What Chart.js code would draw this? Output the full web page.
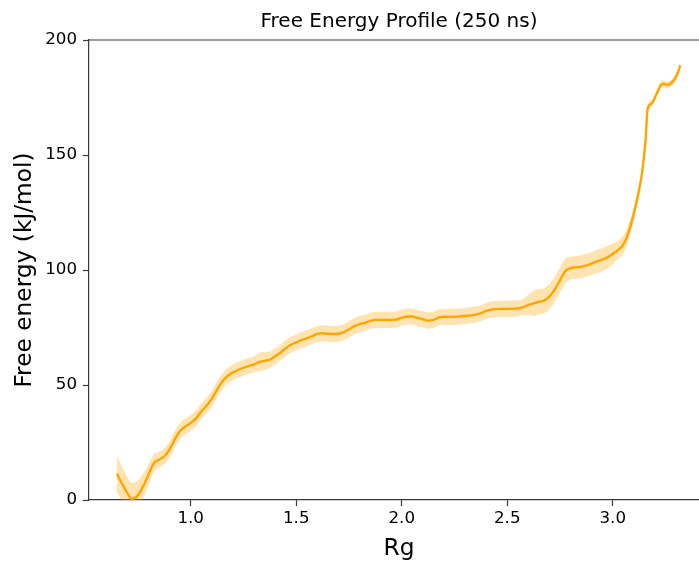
<!DOCTYPE html>
<html>
<head>
<meta charset="utf-8">
<script src="https://cdn.jsdelivr.net/npm/chart.js@4/dist/chart.umd.min.js"></script>
<style>
  html, body { margin: 0; padding: 0; background: #fff; overflow: hidden; width: 699px; height: 561px; }
  #wrap { width: 710px; height: 561px; }
</style>
</head>
<body>
<div id="wrap"><canvas id="c" width="710" height="561"></canvas></div>
<script>
const rg = [0.65, 0.675, 0.70, 0.72, 0.745, 0.775, 0.80, 0.825, 0.85, 0.875, 0.90, 0.925, 0.95, 0.975,
  1.0, 1.025, 1.05, 1.075, 1.10, 1.125, 1.15, 1.175, 1.20, 1.225, 1.25, 1.275, 1.30, 1.325, 1.35, 1.375,
  1.40, 1.425, 1.45, 1.475, 1.50, 1.525, 1.55, 1.575, 1.60, 1.625, 1.65, 1.675, 1.70, 1.725, 1.75, 1.775,
  1.80, 1.825, 1.85, 1.875, 1.90, 1.95, 1.975, 2.0, 2.025, 2.05, 2.075, 2.10, 2.125, 2.15, 2.175, 2.20,
  2.225, 2.25, 2.30, 2.35, 2.375, 2.40, 2.425, 2.45, 2.50, 2.55, 2.575, 2.60, 2.625, 2.65, 2.675, 2.70,
  2.725, 2.75, 2.775, 2.80, 2.85, 2.90, 2.925, 2.95, 2.975, 3.0, 3.025, 3.05, 3.075, 3.10, 3.125, 3.14,
  3.155, 3.165, 3.185, 3.21, 3.235, 3.26, 3.285, 3.305, 3.32];
const freeEnergy = [11.5, 7, 3, 0.5, 1.5, 6, 11, 16, 17.5, 19, 22, 26.5, 30, 32,
  33.5, 35.5, 38.5, 41, 44, 48, 51.5, 54, 55.5, 56.5, 57.5, 58.3, 59, 60, 60.5, 61,
  62.5, 64, 66, 67.5, 68.5, 69.5, 70.3, 71.2, 72.2, 72.5, 72.3, 72.2, 72.3, 73, 74.2, 75.5,
  76.5, 77, 77.8, 78.3, 78.3, 78.3, 78.5, 79.2, 79.8, 79.8, 79.2, 78.6, 78, 78.3, 79.3, 79.7,
  79.6, 79.7, 80, 80.6, 81.2, 82.2, 82.8, 83, 83.1, 83.3, 83.8, 84.8, 85.5, 86.2, 86.7, 88.5,
  91.5, 95.5, 99.5, 100.8, 101.4, 102.8, 103.7, 104.5, 105.5, 107, 108.7, 111, 116.5, 124.5, 135, 143,
  156, 170, 172.5, 177, 181, 180.5, 182, 185, 189];
const uncertainty = [8, 7.5, 7, 7, 6.5, 5.5, 4.5, 4, 3.5, 3.5, 3.5, 3.5, 3.5, 3.5,
  3.5, 3.5, 3.5, 3.5, 3.5, 3.5, 3.5, 3.5, 3.5, 3.5, 3.5, 3.5, 3.5, 4, 4, 3.5,
  3.5, 3.5, 3.5, 3.5, 3.5, 3.5, 3.5, 3.5, 3.5, 3.5, 3.5, 3.5, 3.5, 3.5, 3.5, 3.5,
  3.5, 3.5, 3.5, 3.5, 3.5, 3.5, 3.5, 3.5, 3.5, 3.5, 3.5, 3.5, 3.5, 3.5, 3.5, 3.5,
  3.5, 3.5, 3.5, 3.5, 3.5, 3.5, 3.5, 3.5, 3.5, 3.5, 3.5, 4.5, 5.5, 5.5, 5.5, 5.5,
  5.5, 5.5, 5.5, 5, 5, 5, 5, 5, 5, 4.5, 4, 4, 3.5, 3, 2.5, 2,
  1.5, 1.5, 1.5, 1.5, 1.5, 1.5, 1.5, 1.5, 1];
const xTicks = [1.0, 1.5, 2.0, 2.5, 3.0];
const yTicks = [0, 50, 100, 150, 200];

const toPts = arr => rg.map((x, i) => ({ x: x, y: arr[i] }));
const upper = freeEnergy.map((v, i) => v + uncertainty[i]);
const lower = freeEnergy.map((v, i) => v - uncertainty[i]);

const FONT = "'DejaVu Sans', sans-serif";
const SPINE = '#3a3a3a';

const topSpine = {
  id: 'topSpine',
  afterDraw(chart) {
    const { ctx, chartArea } = chart;
    ctx.save();
    ctx.strokeStyle = SPINE;
    ctx.lineWidth = 1.2;
    ctx.beginPath();
    ctx.moveTo(chartArea.left, chartArea.top);
    ctx.lineTo(chartArea.right + 2, chartArea.top);
    ctx.stroke();
    ctx.restore();
  }
};

new Chart(document.getElementById('c'), {
  type: 'line',
  data: {
    datasets: [
      { data: toPts(upper), borderWidth: 0, pointRadius: 0, backgroundColor: 'rgba(255,165,0,0.3)', fill: '+1', cubicInterpolationMode: 'monotone' },
      { data: toPts(lower), borderWidth: 0, pointRadius: 0, backgroundColor: 'rgba(255,165,0,0.3)', fill: false, cubicInterpolationMode: 'monotone' },
      { data: toPts(freeEnergy), borderColor: '#FFA500', borderWidth: 2.4, pointRadius: 0, fill: false, cubicInterpolationMode: 'monotone' }
    ]
  },
  options: {
    responsive: false,
    animation: false,
    devicePixelRatio: 1,
    layout: { padding: { left: 0, right: 1, top: 0, bottom: 0 } },
    plugins: {
      legend: { display: false },
      tooltip: { enabled: false },
      title: {
        display: true,
        fullSize: false,
        text: 'Free Energy Profile (250 ns)',
        color: '#000',
        font: { family: FONT, size: 20, weight: 'normal', lineHeight: 1.2 },
        padding: { top: 10, bottom: 6 }
      }
    },
    scales: {
      x: {
        type: 'linear',
        min: 0.518,
        max: 3.456,
        afterBuildTicks: s => { s.ticks = xTicks.map(v => ({ value: v })); },
        afterFit: s => { s.height = 61; },
        ticks: {
          color: '#000',
          font: { family: FONT, size: 16.7 },
          padding: 3,
          maxRotation: 0,
          callback: v => v.toFixed(1)
        },
        grid: { drawOnChartArea: false, drawTicks: true, tickLength: 6, tickColor: SPINE, tickWidth: 1.2 },
        border: { display: true, color: SPINE, width: 1.2 },
        title: {
          display: true,
          text: 'Rg',
          color: '#000',
          font: { family: FONT, size: 23.3, lineHeight: 1.05 },
          padding: { top: 0, bottom: 0 }
        }
      },
      y: {
        min: 0,
        max: 200,
        afterBuildTicks: s => { s.ticks = yTicks.map(v => ({ value: v })); },
        afterFit: s => { s.width = 89; },
        ticks: {
          color: '#000',
          font: { family: FONT, size: 16.7 },
          padding: 6
        },
        grid: { drawOnChartArea: false, drawTicks: true, tickLength: 6, tickColor: SPINE, tickWidth: 1.2 },
        border: { display: true, color: SPINE, width: 1.2 },
        title: {
          display: true,
          text: 'Free energy (kJ/mol)',
          color: '#000',
          font: { family: FONT, size: 23.3, lineHeight: 1.2 },
          padding: { top: 11, bottom: 0 }
        }
      }
    }
  },
  plugins: [topSpine]
});
</script>
</body>
</html>
